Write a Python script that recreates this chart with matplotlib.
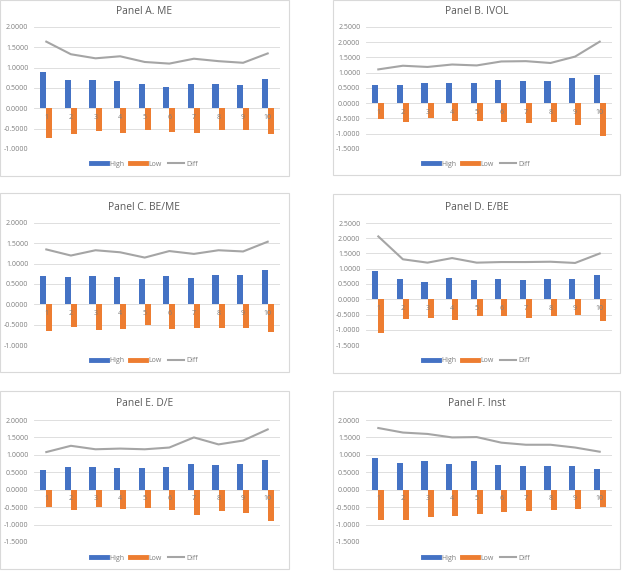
import matplotlib.pyplot as plt
from matplotlib.lines import Line2D
from matplotlib.patches import Rectangle
import numpy as np

plt.rcParams['font.family'] = ['Open Sans', 'DejaVu Sans']

# Decile portfolios 1..10
categories = ['1', '2', '3', '4', '5', '6', '7', '8', '9', '10']

high_a = [0.90, 0.69, 0.70, 0.66, 0.59, 0.52, 0.61, 0.61, 0.57, 0.71]
low_a = [-0.74, -0.64, -0.55, -0.61, -0.54, -0.57, -0.60, -0.54, -0.54, -0.64]
diff_a = [1.64, 1.33, 1.23, 1.28, 1.14, 1.10, 1.22, 1.16, 1.12, 1.35]

high_b = [0.60, 0.60, 0.68, 0.68, 0.67, 0.75, 0.72, 0.72, 0.82, 0.93]
low_b = [-0.51, -0.61, -0.50, -0.59, -0.57, -0.60, -0.65, -0.60, -0.72, -1.09]
diff_b = [1.11, 1.23, 1.19, 1.27, 1.24, 1.37, 1.38, 1.32, 1.53, 2.02]

high_c = [0.69, 0.66, 0.70, 0.67, 0.63, 0.70, 0.65, 0.73, 0.71, 0.85]
low_c = [-0.66, -0.56, -0.62, -0.60, -0.52, -0.61, -0.59, -0.59, -0.59, -0.69]
diff_c = [1.35, 1.20, 1.33, 1.28, 1.15, 1.31, 1.24, 1.33, 1.30, 1.54]

high_d = [0.94, 0.67, 0.58, 0.69, 0.64, 0.68, 0.62, 0.68, 0.68, 0.79]
low_d = [-1.10, -0.65, -0.62, -0.67, -0.56, -0.55, -0.60, -0.56, -0.50, -0.70]
diff_d = [2.06, 1.31, 1.20, 1.35, 1.20, 1.22, 1.22, 1.23, 1.19, 1.50]

high_e = [0.57, 0.66, 0.64, 0.62, 0.63, 0.65, 0.75, 0.70, 0.74, 0.84]
low_e = [-0.50, -0.59, -0.51, -0.56, -0.52, -0.57, -0.73, -0.61, -0.66, -0.89]
diff_e = [1.08, 1.26, 1.16, 1.18, 1.16, 1.21, 1.50, 1.30, 1.41, 1.73]

high_f = [0.90, 0.76, 0.81, 0.73, 0.82, 0.71, 0.69, 0.69, 0.67, 0.59]
low_f = [-0.87, -0.88, -0.78, -0.76, -0.70, -0.63, -0.60, -0.58, -0.55, -0.50]
diff_f = [1.77, 1.64, 1.60, 1.50, 1.51, 1.35, 1.29, 1.29, 1.21, 1.09]

titles = ['Panel A. ME', 'Panel B. IVOL', 'Panel C. BE/ME',
          'Panel D. E/BE', 'Panel E. D/E', 'Panel F. Inst']
y_ranges = [(-1.0, 2.0), (-1.5, 2.5), (-1.0, 2.0),
            (-1.5, 2.5), (-1.5, 2.0), (-1.5, 2.0)]

BLUE = '#4472C4'
ORANGE = '#ED7D31'
GRAY = '#A5A5A5'
GRID = '#D9D9D9'
TEXT = '#7F7F7F'

W, H = 624, 572
fig = plt.figure(figsize=(W / 100, H / 100), dpi=100)


def fx(x):
    return x / W


def fy(y):
    return 1 - y / H


# pixel layout: (box x0, box y0, box x1, box y1, plot x0, plot y0, plot x1, plot y1, title y, legend y)
layout = [
    (0, 0, 289, 176, 34, 27, 280, 149, 11, 164),
    (333, 0, 620, 175, 366, 27, 612, 149, 11, 164),
    (0, 193, 289, 372, 34, 223, 280, 345, 207, 361),
    (333, 194, 620, 373, 366, 223, 612, 345, 207, 361),
    (0, 391, 289, 569, 34, 420, 280, 542, 404, 558),
    (333, 391, 620, 569, 366, 420, 612, 542, 404, 558),
]

panels = [
    (high_a, low_a, diff_a), (high_b, low_b, diff_b), (high_c, low_c, diff_c),
    (high_d, low_d, diff_d), (high_e, low_e, diff_e), (high_f, low_f, diff_f),
]

x = np.arange(len(categories))
w = 0.245

for k, (high, low, diff) in enumerate(panels):
    bx0, by0, bx1, by1, px0, py0, px1, py1, ty, ly = layout[k]

    # chart border
    fig.patches.append(Rectangle((fx(bx0), fy(by1)), fx(bx1 - bx0), (by1 - by0) / H,
                                 transform=fig.transFigure, fill=False,
                                 edgecolor=GRID, linewidth=0.8))

    ax = fig.add_axes([fx(px0), fy(py1), fx(px1 - px0), (py1 - py0) / H])
    ax.bar(x - w / 2, high, width=w, color=BLUE, zorder=2)
    ax.bar(x + w / 2, low, width=w, color=ORANGE, zorder=2)
    ax.plot(x, diff, color=GRAY, linewidth=1.5, zorder=3)

    ymin, ymax = y_ranges[k]
    ticks = np.arange(ymin, ymax + 0.01, 0.5)
    ax.set_ylim(ymin, ymax)
    ax.set_xlim(-0.5, len(categories) - 0.5)
    ax.set_yticks(ticks)
    ax.set_yticklabels(['{:.4f}'.format(v) for v in ticks])
    ax.tick_params(axis='y', length=0, labelsize=5, labelcolor=TEXT, pad=4)
    ax.set_xticks([])
    ax.grid(axis='y', color=GRID, linewidth=0.6, zorder=0)
    ax.set_axisbelow(True)
    for s in ax.spines.values():
        s.set_visible(False)
    ax.patch.set_alpha(0)

    for i, lab in enumerate(categories):
        ax.annotate(lab, xy=(i, 0), xytext=(0, -4), textcoords='offset points',
                    ha='center', va='top', fontsize=5, color=TEXT, zorder=5)

    fig.text(fx((bx0 + bx1) / 2), fy(ty), titles[k], ha='center', va='center',
             fontsize=7.4, color='#595959')

    handles = [Line2D([], [], color=BLUE, linewidth=3.5),
               Line2D([], [], color=ORANGE, linewidth=3.5),
               Line2D([], [], color=GRAY, linewidth=1.5)]
    fig.legend(handles, ['High', 'Low', 'Diff'], loc='center',
               bbox_to_anchor=(fx((bx0 + bx1) / 2), fy(ly)), ncol=3,
               frameon=False, fontsize=5, labelcolor=TEXT,
               handlelength=2.3, handletextpad=0.35, columnspacing=0.9,
               borderpad=0, borderaxespad=0)

fig.savefig('out.png', dpi=100)
